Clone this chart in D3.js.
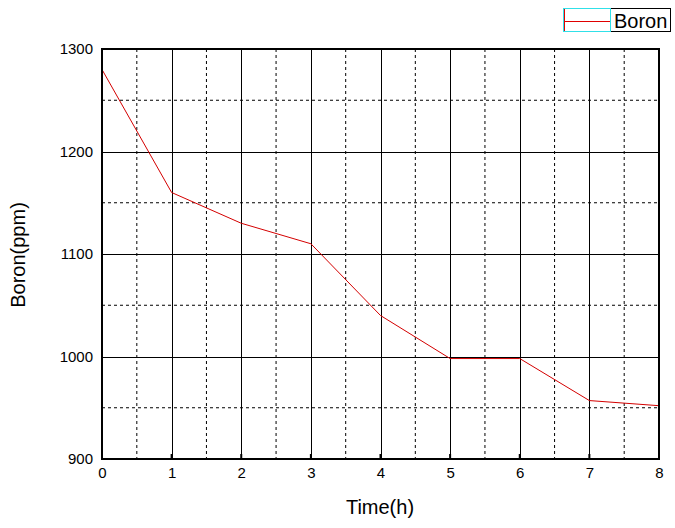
<!DOCTYPE html>
<html><head><meta charset="utf-8">
<script src="https://cdn.jsdelivr.net/npm/d3@7"></script>
<style>body{margin:0;background:#fff}svg{display:block}text{font-family:"Liberation Sans",Arial,sans-serif}</style>
</head><body><svg id="c" width="675" height="528"></svg>
<script>
const hours = [0,1,2,3,4,5,6,7,8];
const boron = [1280,1160,1130,1110,1040,998,998,957,952];
const xTicks = [0,1,2,3,4,5,6,7,8];
const yTicks = [900,1000,1100,1200,1300];
const xMinor = [0.5,1.5,2.5,3.5,4.5,5.5,6.5,7.5];
const yMinor = [950,1050,1150,1250];
const seriesName = "Boron";

const svg = d3.select("#c");
const L=102, R=659, T=49, B=459;
const x = d3.scaleLinear().domain([0,8]).range([L,R]);
const y = d3.scaleLinear().domain([900,1300]).range([B,T]);

const g = svg.append("g");
g.selectAll(".vx").data(xMinor).join("line")
  .attr("x1",d=>x(d)).attr("x2",d=>x(d)).attr("y1",T).attr("y2",B)
  .attr("stroke","#000").attr("stroke-dasharray","3,3").attr("stroke-width",1);
g.selectAll(".hy").data(yMinor).join("line")
  .attr("y1",d=>y(d)).attr("y2",d=>y(d)).attr("x1",L).attr("x2",R)
  .attr("stroke","#000").attr("stroke-dasharray","3,3").attr("stroke-width",1);
g.selectAll(".vX").data(xTicks.slice(1,-1)).join("line")
  .attr("x1",d=>Math.round(x(d))+0.5).attr("x2",d=>Math.round(x(d))+0.5).attr("y1",T).attr("y2",B)
  .attr("stroke","#000").attr("stroke-width",1);
g.selectAll(".hY").data(yTicks.slice(1,-1)).join("line")
  .attr("y1",d=>Math.round(y(d))+0.5).attr("y2",d=>Math.round(y(d))+0.5).attr("x1",L).attr("x2",R)
  .attr("stroke","#000").attr("stroke-width",1);

const line = d3.line().x((d,i)=>x(hours[i])).y(d=>y(d));
svg.append("path").datum(boron).attr("d",line)
  .attr("fill","none").attr("stroke","#d40000").attr("stroke-width",1);

svg.append("rect").attr("x",L).attr("y",T).attr("width",R-L).attr("height",B-T)
  .attr("fill","none").attr("stroke","#000").attr("stroke-width",2);

const xa = d3.axisBottom(x).tickValues(xTicks).tickSize(0).tickPadding(8).tickFormat(d3.format("d"));
const xg = svg.append("g").attr("transform",`translate(0,${B})`).call(xa);
xg.select(".domain").remove();
xg.selectAll("text").attr("font-size",15).attr("fill","#000").attr("font-family","Liberation Sans, Arial, sans-serif");
const ya = d3.axisLeft(y).tickValues(yTicks).tickSize(0).tickPadding(9).tickFormat(d3.format("d"));
const yg = svg.append("g").attr("transform",`translate(${L},0)`).call(ya);
yg.select(".domain").remove();
yg.selectAll("text").attr("font-size",15).attr("fill","#000").attr("font-family","Liberation Sans, Arial, sans-serif");

svg.selectAll(".bt").data(xTicks.slice(1,-1)).join("line")
  .attr("x1",d=>x(d)).attr("x2",d=>x(d)).attr("y1",B).attr("y2",B-5).attr("stroke","#000").attr("stroke-width",2);

svg.append("text").attr("x",380).attr("y",514).attr("text-anchor","middle")
  .attr("font-size",20).text("Time(h)");
svg.append("text").attr("transform","translate(25,255) rotate(-90)").attr("text-anchor","middle")
  .attr("font-size",20).text("Boron(ppm)");

const lg = svg.append("g");
lg.append("rect").attr("x",610.5).attr("y",8.5).attr("width",60).attr("height",23).attr("fill","#fff").attr("stroke","#000");
lg.append("rect").attr("x",563.5).attr("y",8.5).attr("width",47).attr("height",23).attr("fill","#fff").attr("stroke","#30e0e8");
lg.append("line").attr("x1",564).attr("x2",610).attr("y1",21.5).attr("y2",21.5).attr("stroke","#e00000").attr("stroke-width",1.2);
lg.append("line").attr("x1",564.5).attr("x2",564.5).attr("y1",9).attr("y2",31).attr("stroke","#e00000");
lg.append("text").attr("x",614).attr("y",28).attr("font-size",20).text(seriesName);
</script></body></html>
